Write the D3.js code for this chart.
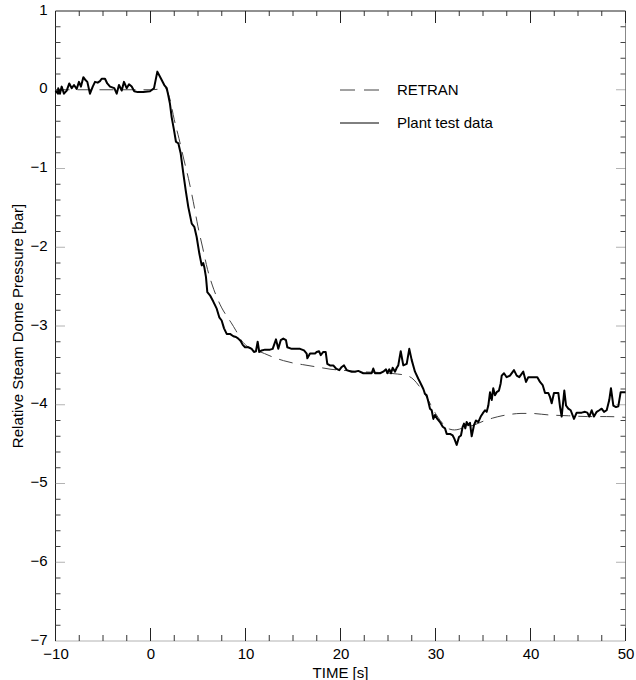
<!DOCTYPE html>
<html>
<head>
<meta charset="utf-8">
<script src="https://cdn.jsdelivr.net/npm/d3@7"></script>
<style>
  html, body { margin: 0; padding: 0; background: #fff; }
  svg { display: block; }
  text { font-family: "Liberation Sans", Arial, Helvetica, sans-serif; fill: #000; }
</style>
</head>
<body>
<svg id="chart" width="636" height="680"></svg>
<script>
// Simulated (RETRAN) relative steam dome pressure, bar
const retranTime = [-10, -5, 0, 1, 1.5, 2, 2.5, 3, 3.5, 4, 4.5, 5, 5.5, 6, 6.5, 7, 7.5, 8, 8.5, 9, 9.5, 10,
  11, 12, 13, 14, 15, 16, 17, 18, 19, 20, 22, 24, 26, 27, 27.5, 28, 28.5, 29, 29.5, 30, 30.5, 31, 31.5, 32,
  32.5, 33, 34, 35, 36, 37, 38, 39, 40, 42, 44, 46, 48, 50];
const retranPressure = [0, 0, 0, 0.01, 0.02, -0.10, -0.38, -0.62, -0.88, -1.13, -1.42, -1.74, -2.01, -2.28, -2.48, -2.64, -2.77, -2.87, -2.96, -3.06, -3.17, -3.24,
  -3.30, -3.35, -3.40, -3.44, -3.47, -3.49, -3.51, -3.53, -3.55, -3.56, -3.58, -3.59, -3.61, -3.63, -3.66, -3.72, -3.80, -3.89, -4.00, -4.11, -4.20, -4.27, -4.31, -4.32,
  -4.31, -4.29, -4.26, -4.21, -4.17, -4.14, -4.12, -4.11, -4.11, -4.13, -4.14, -4.15, -4.15, -4.16];

// Measured plant test data, bar
const plantTime = [-10, -9.74, -9.71, -9.53, -9.35, -9.11, -8.82, -8.55, -8.29, -8.05, -7.77, -7.53, -7.32, -7.07, -6.82, -6.65, -6.37, -6.08, -5.84, -5.56,
  -5.32, -5.14, -4.79, -4.55, -4.26, -3.81, -3.56, -3.32, -3.03, -2.79, -2.51, -2.26, -1.98, -1.71, -1.35, -0.76, -0.05, 0.37, 0.72, 1.11,
  1.45, 1.71, 1.87, 2.05, 2.23, 2.47, 2.68, 2.93, 3.18, 3.45, 3.71, 3.98, 4.34, 4.61, 4.86, 5.14, 5.39, 5.55, 5.66, 5.84,
  5.98, 6.26, 6.61, 6.97, 7.24, 7.49, 7.74, 8.02, 8.37, 8.72, 9.0, 9.24, 9.49, 9.71, 9.95, 10.3, 10.65, 10.89, 11.1, 11.28,
  11.45, 11.7, 12.05, 12.58, 12.86, 13.21, 13.45, 13.71, 13.98, 14.26, 14.4, 14.86, 15.74, 16.16, 16.44, 16.51, 16.79, 17.32, 17.49, 17.74,
  17.92, 18.19, 18.44, 18.61, 18.89, 19.24, 19.53, 19.87, 20.13, 20.37, 20.65, 21.18, 21.53, 21.87, 22.4, 22.93, 23.28, 23.45, 23.63, 24.16,
  24.5, 24.79, 24.93, 25.14, 25.32, 25.49, 25.74, 25.92, 26.08, 26.34, 26.61, 26.97, 27.24, 27.49, 27.84, 28.19, 28.44, 28.72, 28.89, 29.07,
  29.24, 29.42, 29.6, 29.77, 29.95, 30.19, 30.47, 30.76, 31.0, 31.18, 31.53, 31.81, 31.98, 32.23, 32.47, 32.68, 32.86, 33.0, 33.14, 33.28,
  33.45, 33.63, 33.81, 34.05, 34.26, 34.5, 34.76, 34.97, 35.21, 35.39, 35.56, 35.74, 35.92, 36.08, 36.26, 36.44, 36.68, 36.86, 36.97, 37.21,
  37.49, 37.84, 38.26, 38.55, 38.82, 39.24, 39.53, 39.77, 40.29, 40.72, 41.0, 41.28, 41.53, 41.87, 42.05, 42.23, 42.47, 42.93, 43.11, 43.28,
  43.56, 43.74, 43.98, 44.23, 44.58, 44.86, 45.39, 45.74, 45.98, 46.19, 46.44, 46.68, 46.97, 47.24, 47.49, 47.74, 48.02, 48.29, 48.47, 48.72,
  49.0, 49.24, 49.49, 49.77, 50.0];
const plantPressure = [-0.01, -0.05, 0.02, -0.05, 0.04, -0.05, -0.01, 0.08, 0.02, 0.06, 0.01, 0.10, 0.04, 0.16, 0.12, 0.10, -0.05, 0.04, 0.10, 0.09,
  0.11, 0.14, 0.14, 0.08, 0.04, 0.02, -0.05, 0.06, -0.01, 0.10, 0.02, 0.07, 0.04, -0.02, -0.03, -0.03, -0.02, 0.02, 0.23, 0.14,
  0.06, 0.02, -0.07, -0.18, -0.35, -0.51, -0.66, -0.68, -0.81, -1.06, -1.28, -1.49, -1.70, -1.74, -1.87, -2.08, -2.23, -2.20, -2.25, -2.38,
  -2.57, -2.61, -2.69, -2.78, -2.89, -2.93, -3.03, -3.10, -3.10, -3.13, -3.14, -3.16, -3.19, -3.24, -3.27, -3.27, -3.29, -3.33, -3.32, -3.20,
  -3.33, -3.31, -3.30, -3.30, -3.29, -3.17, -3.29, -3.18, -3.16, -3.18, -3.27, -3.29, -3.29, -3.31, -3.35, -3.41, -3.35, -3.35, -3.33, -3.32,
  -3.37, -3.33, -3.33, -3.48, -3.50, -3.50, -3.54, -3.56, -3.52, -3.50, -3.56, -3.58, -3.58, -3.57, -3.60, -3.60, -3.60, -3.54, -3.60, -3.60,
  -3.58, -3.55, -3.60, -3.55, -3.60, -3.53, -3.58, -3.53, -3.50, -3.32, -3.50, -3.48, -3.29, -3.43, -3.58, -3.67, -3.73, -3.80, -3.86, -3.88,
  -3.96, -4.05, -4.07, -4.18, -4.13, -4.18, -4.22, -4.28, -4.30, -4.37, -4.37, -4.39, -4.43, -4.51, -4.41, -4.39, -4.28, -4.24, -4.30, -4.22,
  -4.26, -4.23, -4.40, -4.26, -4.20, -4.22, -4.15, -4.11, -4.07, -4.09, -4.01, -3.84, -3.94, -3.79, -3.88, -3.84, -3.82, -3.73, -3.63, -3.60,
  -3.65, -3.63, -3.56, -3.63, -3.65, -3.58, -3.71, -3.65, -3.65, -3.65, -3.71, -3.75, -3.85, -3.85, -3.90, -3.98, -3.85, -3.85, -4.03, -4.15,
  -3.82, -4.01, -4.05, -4.07, -4.18, -4.10, -4.10, -4.09, -4.10, -4.15, -4.07, -4.15, -4.09, -4.07, -4.05, -4.09, -4.07, -3.94, -3.79, -4.01,
  -4.03, -4.02, -3.84, -3.84, -3.84];

const xMajorTicks = [-10, 0, 10, 20, 30, 40, 50];
const yMajorTicks = [1, 0, -1, -2, -3, -4, -5, -6, -7];
const seriesNames = ["RETRAN", "Plant test data"];

const svg = d3.select("#chart");
const plotLeft = 55.5, plotRight = 625.5, plotTop = 11, plotBottom = 641;

const x = d3.scaleLinear().domain([-10, 50]).range([plotLeft, plotRight]);
const y = d3.scaleLinear().domain([-7, 1]).range([plotBottom, plotTop]);

// Minor tick positions
const xMinor = d3.range(-10, 50.001, 2.5).filter(v => Math.abs(v % 10) > 1e-6);
const yMinor = d3.range(-7, 1.001, 0.2).map(v => +v.toFixed(1)).filter(v => Math.abs(v - Math.round(v)) > 1e-6);

const frame = svg.append("g");

// Frame
frame.append("line").attr("x1", plotLeft).attr("x2", plotLeft).attr("y1", plotTop).attr("y2", plotBottom)
  .attr("stroke", "#222").attr("stroke-width", 1);
frame.append("line").attr("x1", plotLeft).attr("x2", plotRight).attr("y1", plotTop).attr("y2", plotTop)
  .attr("stroke", "#222").attr("stroke-width", 1);
frame.append("line").attr("x1", plotRight).attr("x2", plotRight).attr("y1", plotTop).attr("y2", plotBottom)
  .attr("stroke", "#888").attr("stroke-width", 1);
frame.append("line").attr("x1", plotLeft).attr("x2", plotRight).attr("y1", plotBottom).attr("y2", plotBottom)
  .attr("stroke", "#666").attr("stroke-width", 1).attr("stroke-dasharray", "1,1");

// X ticks (inward, on bottom and top)
const xt = frame.append("g");
xMajorTicks.forEach(v => {
  xt.append("line").attr("x1", x(v)).attr("x2", x(v)).attr("y1", plotBottom).attr("y2", plotBottom - 13)
    .attr("stroke", "#222");
  xt.append("line").attr("x1", x(v)).attr("x2", x(v)).attr("y1", plotTop).attr("y2", plotTop + 12)
    .attr("stroke", "#222");
});
xMinor.forEach(v => {
  xt.append("line").attr("x1", x(v)).attr("x2", x(v)).attr("y1", plotBottom).attr("y2", plotBottom - 6)
    .attr("stroke", "#333");
  xt.append("line").attr("x1", x(v)).attr("x2", x(v)).attr("y1", plotTop).attr("y2", plotTop + 5)
    .attr("stroke", "#333");
});

// Y ticks (inward, on left and right)
const yt = frame.append("g");
yMajorTicks.forEach(v => {
  if (v === 1 || v === -7) return;
  yt.append("line").attr("x1", plotLeft).attr("x2", plotLeft + 10).attr("y1", y(v)).attr("y2", y(v))
    .attr("stroke", "#666").attr("stroke-dasharray", "1,1");
  yt.append("line").attr("x1", plotRight).attr("x2", plotRight - 10).attr("y1", y(v)).attr("y2", y(v))
    .attr("stroke", "#666").attr("stroke-dasharray", "1,1");
});
yMinor.forEach(v => {
  yt.append("line").attr("x1", plotLeft).attr("x2", plotLeft + 5).attr("y1", y(v)).attr("y2", y(v))
    .attr("stroke", "#444");
  yt.append("line").attr("x1", plotRight).attr("x2", plotRight - 5).attr("y1", y(v)).attr("y2", y(v))
    .attr("stroke", "#444");
});

// Tick labels via d3 axes (tick lines hidden; drawn above)
const fmt = d3.format("d");
const xAxis = d3.axisBottom(x).tickValues(xMajorTicks).tickFormat(fmt).tickSize(0).tickPadding(7);
const xa = svg.append("g").attr("transform", `translate(0,${plotBottom})`).call(xAxis);
xa.select(".domain").remove();
xa.selectAll("text").attr("font-size", 15).attr("font-family", "Liberation Sans, Arial, sans-serif");

const yAxis = d3.axisLeft(y).tickValues(yMajorTicks).tickFormat(fmt).tickSize(0).tickPadding(8);
const ya = svg.append("g").attr("transform", `translate(${plotLeft},0)`).call(yAxis);
ya.select(".domain").remove();
ya.selectAll("text").attr("font-size", 15).attr("dy", "0.2em")
  .attr("font-family", "Liberation Sans, Arial, sans-serif");

// Axis titles
svg.append("text").attr("x", (plotLeft + plotRight) / 2).attr("y", 678).attr("text-anchor", "middle")
  .attr("font-size", 15).text("TIME [s]");
svg.append("text").attr("transform", `translate(23,${(plotTop + plotBottom) / 2}) rotate(-90)`)
  .attr("text-anchor", "middle").attr("font-size", 15).text("Relative Steam Dome Pressure [bar]");

// Curves
const retran = retranTime.map((t, i) => [t, retranPressure[i]]);
const plant = plantTime.map((t, i) => [t, plantPressure[i]]);

const smoothLine = d3.line().x(d => x(d[0])).y(d => y(d[1])).curve(d3.curveMonotoneX);
const rawLine = d3.line().x(d => x(d[0])).y(d => y(d[1]));

svg.append("path").datum(retran).attr("d", smoothLine)
  .attr("fill", "none").attr("stroke", "#444").attr("stroke-width", 1)
  .attr("stroke-dasharray", "14,8");
svg.append("path").datum(plant).attr("d", rawLine)
  .attr("fill", "none").attr("stroke", "#000").attr("stroke-width", 2).attr("stroke-linejoin", "round");

// Legend
const lg = svg.append("g");
const legY = [90, 123];
lg.append("line").attr("x1", 340).attr("x2", 379).attr("y1", legY[0]).attr("y2", legY[0])
  .attr("stroke", "#444").attr("stroke-width", 1).attr("stroke-dasharray", "15,9");
lg.append("line").attr("x1", 340).attr("x2", 379).attr("y1", legY[1]).attr("y2", legY[1])
  .attr("stroke", "#000").attr("stroke-width", 1);
seriesNames.forEach((name, i) => {
  lg.append("text").attr("x", 397).attr("y", legY[i] + 5).attr("font-size", 15).text(name);
});
</script>
</body>
</html>
